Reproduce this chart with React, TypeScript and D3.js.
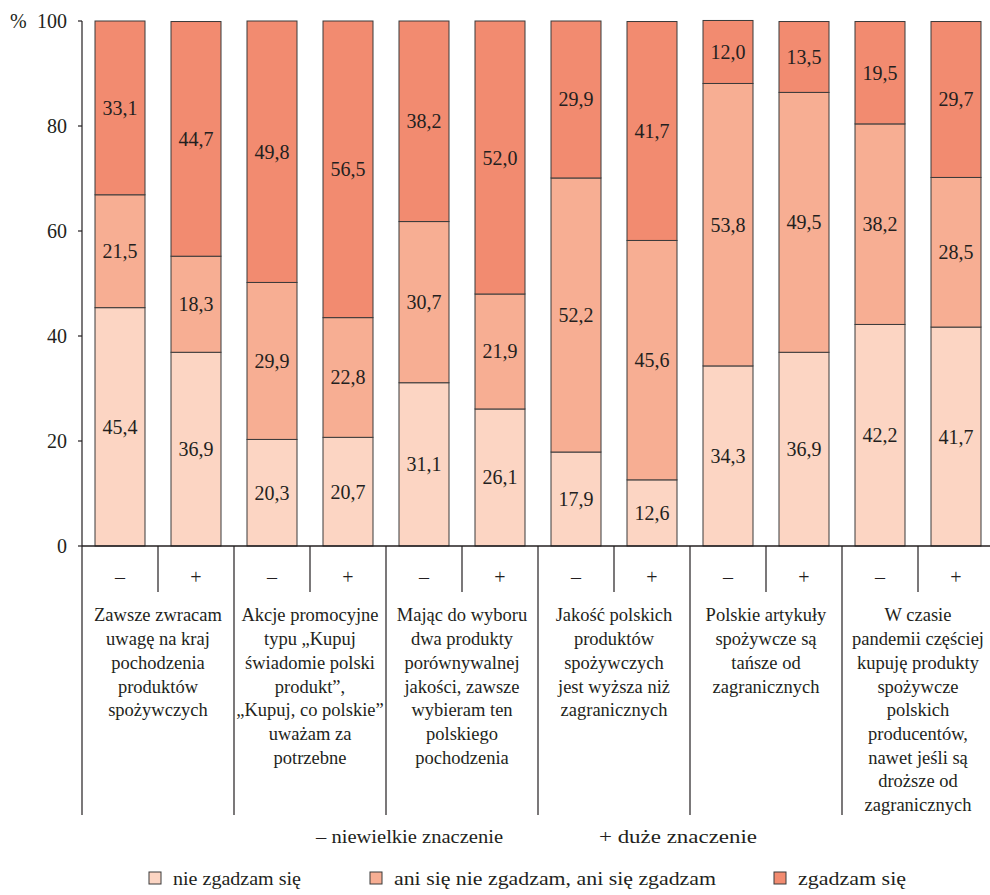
import React, { useEffect, useRef } from "react";
import * as d3 from "d3";

// Statements (one group per statement, two bars each)
const statements: string[][] = [
  ["Zawsze zwracam", "uwagę na kraj", "pochodzenia", "produktów", "spożywczych"],
  ["Akcje promocyjne", "typu „Kupuj", "świadomie polski", "produkt”,", "„Kupuj, co polskie”", "uważam za", "potrzebne"],
  ["Mając do wyboru", "dwa produkty", "porównywalnej", "jakości, zawsze", "wybieram ten", "polskiego", "pochodzenia"],
  ["Jakość polskich", "produktów", "spożywczych", "jest wyższa niż", "zagranicznych"],
  ["Polskie artykuły", "spożywcze są", "tańsze od", "zagranicznych"],
  ["W czasie", "pandemii częściej", "kupuję produkty", "spożywcze", "polskich", "producentów,", "nawet jeśli są", "droższe od", "zagranicznych"],
];

// Importance level within each group
const importance = ["–", "+"];

// Shares (%) per bar, in order: group 1 (–, +), group 2 (–, +), ...
const disagree = [45.4, 36.9, 20.3, 20.7, 31.1, 26.1, 17.9, 12.6, 34.3, 36.9, 42.2, 41.7];
const neutral = [21.5, 18.3, 29.9, 22.8, 30.7, 21.9, 52.2, 45.6, 53.8, 49.5, 38.2, 28.5];
const agree = [33.1, 44.7, 49.8, 56.5, 38.2, 52.0, 29.9, 41.7, 12.0, 13.5, 19.5, 29.7];

const seriesKeys = ["disagree", "neutral", "agree"];
const seriesNames = ["nie zgadzam się", "ani się nie zgadzam, ani się zgadzam", "zgadzam się"];
const yTicks = [0, 20, 40, 60, 80, 100];
const importanceNames = ["– niewielkie znaczenie", "+ duże znaczenie"];

const colors = ["#fcd5c3", "#f7ae93", "#f28b70"];
const TEXT = "#231f20";
const SERIF = '"Liberation Serif", "Times New Roman"';

const W = 990;
const H = 895;
const left = 82;
const plotTop = 21;
const plotBottom = 546;

// legend layout
const importanceLegend = [
  { x: 316, w: 187 },
  { x: 599, w: 158 },
];
const seriesLegend = [
  { x: 149, w: 128 },
  { x: 370, w: 322 },
  { x: 774, w: 108 },
];

export default function App() {
  const ref = useRef<SVGSVGElement>(null);

  // Pin the serif face on every label
  useEffect(() => {
    if (!ref.current) return;
    d3.select(ref.current)
      .selectAll<SVGTextElement, unknown>("text, tspan")
      .style("font-family", SERIF, "important");
  });

  const rows = disagree.map((_, i) => ({
    id: String(i),
    disagree: disagree[i],
    neutral: neutral[i],
    agree: agree[i],
  }));
  const stacked = d3.stack<any>().keys(seriesKeys)(rows);

  const x = d3
    .scaleBand<string>()
    .domain(rows.map((r) => r.id))
    .range([left, left + 76 * rows.length])
    .paddingInner(26 / 76)
    .paddingOuter(13 / 76);
  const y = d3.scaleLinear().domain([0, 100]).range([plotBottom, plotTop]);

  const step = x.step();
  const fmt = (v: number) => v.toFixed(1).replace(".", ",");

  return (
    <svg ref={ref} width={W} height={H} style={{ position: "absolute", left: 0, top: 0, background: "#fff" }}>
      {/* stacked bars */}
      {stacked.map((s, si) => (
        <g key={s.key}>
          {s.map((d, i) => {
            const x0 = x(String(i))!;
            const y0 = y(d[1]);
            const y1 = y(d[0]);
            return (
              <g key={i}>
                <rect
                  x={x0}
                  y={y0}
                  width={x.bandwidth()}
                  height={y1 - y0}
                  fill={colors[si]}
                  stroke="#3a3a3a"
                  strokeWidth={1}
                />
                <text
                  x={x0 + x.bandwidth() / 2}
                  y={(y0 + y1) / 2}
                  dy="0.35em"
                  textAnchor="middle"
                  fontSize={20}
                  fill={TEXT}
                  fontFamily={SERIF}
                >
                  {fmt(d[1] - d[0])}
                </text>
              </g>
            );
          })}
        </g>
      ))}

      {/* y axis */}
      <line x1={left} x2={left} y1={plotTop} y2={815} stroke={TEXT} strokeWidth={1.2} />
      {yTicks.map((t) => (
        <g key={t}>
          <line x1={left - 4} x2={left} y1={y(t)} y2={y(t)} stroke={TEXT} strokeWidth={1.2} />
          <text x={67} y={y(t)} dy="0.35em" textAnchor="end" fontSize={20} fill={TEXT} fontFamily={SERIF}>
            {t}
          </text>
        </g>
      ))}
      <text x={10} y={y(100)} dy="0.35em" fontSize={20} fill={TEXT} fontFamily={SERIF}>
        %
      </text>

      {/* baseline */}
      <line x1={left} x2={W} y1={plotBottom} y2={plotBottom} stroke={TEXT} strokeWidth={1.5} />

      {/* category table under the axis */}
      {rows.map((r, i) => {
        const cx = x(r.id)! + x.bandwidth() / 2;
        const edge = left + step * (i + 1);
        const isGroupEnd = i % 2 === 1;
        return (
          <g key={r.id}>
            <text x={cx} y={577} dy="0.35em" textAnchor="middle" fontSize={20} fill={TEXT} fontFamily={SERIF}>
              {importance[i % 2]}
            </text>
            {edge < W && (
              <line
                x1={edge}
                x2={edge}
                y1={plotBottom}
                y2={isGroupEnd ? 815 : 592}
                stroke={TEXT}
                strokeWidth={1.2}
              />
            )}
          </g>
        );
      })}
      {statements.map((lines, g) => {
        const cx = left + step * (2 * g + 1);
        return (
          <text key={g} textAnchor="middle" fontSize={18.5} fill={TEXT} fontFamily={SERIF}>
            {lines.map((ln, k) => (
              <tspan key={k} x={cx} y={615 + k * 23.7} dy="0.35em">
                {ln}
              </tspan>
            ))}
          </text>
        );
      })}

      {/* importance legend */}
      {importanceNames.map((name, i) => (
        <text
          key={name}
          x={importanceLegend[i].x}
          y={836}
          dy="0.35em"
          fontSize={19}
          fill={TEXT}
          fontFamily={SERIF}
          textLength={importanceLegend[i].w}
          lengthAdjust="spacingAndGlyphs"
        >
          {name}
        </text>
      ))}

      {/* series legend */}
      {seriesNames.map((name, i) => {
        const lx = seriesLegend[i].x;
        return (
          <g key={name}>
            <rect x={lx} y={872} width={12} height={12} fill={colors[i]} stroke="#3a3a3a" strokeWidth={1} />
            <text
              x={lx + 24}
              y={878}
              dy="0.35em"
              fontSize={19}
              fill={TEXT}
              fontFamily={SERIF}
              textLength={seriesLegend[i].w}
              lengthAdjust="spacingAndGlyphs"
            >
              {name}
            </text>
          </g>
        );
      })}
    </svg>
  );
}
